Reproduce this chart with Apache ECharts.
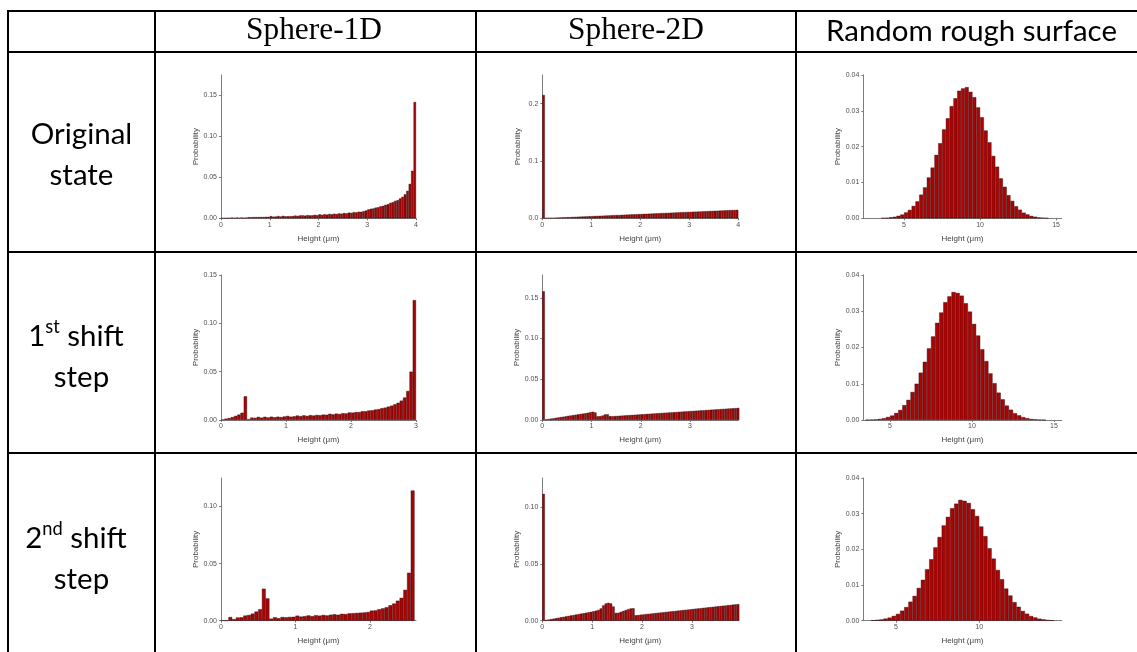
<!DOCTYPE html>
<html><head><meta charset="utf-8">
<script src="https://cdn.jsdelivr.net/npm/echarts@6/dist/echarts.min.js"></script>
<style>html,body{margin:0;padding:0;background:#fff}#c{width:1137px;height:652px}</style>
</head><body><div id="c"></div>
<script>
// ---------------- text ----------------
const columnTitles = ['Sphere-1D', 'Sphere-2D', 'Random rough surface'];
const rowTitles = [
  {main: 'Original', sup: '', rest: '', line2: 'state'},
  {main: '1', sup: 'st', rest: ' shift', line2: 'step'},
  {main: '2', sup: 'nd', rest: ' shift', line2: 'step'}
];
const xAxisName = 'Height (\u03bcm)';
const yAxisName = 'Probability';

// ---------------- data (histogram bin heights) ----------------
// Sphere panels: bins of 0.05 um starting at 0, values in units of 1e-4
const sphere1dOriginal = [2,2,3,3,8,4,9,5,9,6, 9,13,14,14,15,15,16,16,17,18, 26,20,21,28,22,30,24,25,26,27,
  33,29,35,36,32,39,35,36,42,38, 49,42,50,45,53,48,56,52,60,56, 64,60,69,66,74,72,80,79,87,95,
  108,116,120,130,135,146,152,165,172,188, 196,212,222,242,262,292,335,420,580,1420];
const sphere1dShift1 = [4,14,20,30,42,56,75,245,8,25, 22,32,24,33,26,34,28,34,30,36, 42,34,38,46,40,48,42,50,46,52,
  50,56,54,64,58,66,62,70,68,78, 76,82,82,90,90,98,100,108,112,122, 128,138,148,162,178,200,232,300,500,1240];
const sphere1dShift2 = [3,0,32,14,28,30,45,50,62,80, 100,280,195,18,30,22,32,30,33,34, 44,36,40,46,40,48,44,50,46,52,
  56,52,60,58,64,66,68,70,72,76, 88,90,100,108,118,135,150,175,200,270, 420,1140];
const sphere2dOriginal = [2150,3,5,6,8,10,12,14,16,18, 19,21,23,25,27,29,31,32,34,36, 38,40,42,43,45,47,49,51,53,55,
  56,58,60,62,64,66,68,69,71,73, 75,77,79,80,82,84,86,88,90,92, 93,95,97,99,101,103,105,106,108,110,
  112,114,116,117,119,121,123,125,127,129, 130,132,134,136,138,140,142,143,145,147];
const sphere2dShift1 = [1580,7,12,17,21,26,31,36,40,45, 50,55,59,64,69,74,78,83,88,96, 101,92,45,47,55,68,70,48,46,48,
  50,52,54,56,58,60,62,64,66,68, 70,72,74,76,78,80,82,84,86,88, 90,92,94,96,98,100,102,104,106,108,
  110,112,114,116,118,120,122,124,126,128, 130,132,134,136,138,140,142,144,146,148];
const sphere2dShift2 = [1120,6,10,14,18,22,26,30,34,38, 42,46,50,54,58,62,66,70,74,78, 83,88,95,108,135,152,158,152,125,68,
  70,78,86,94,102,108,110,48,50,53, 55,58,60,62,65,67,70,72,74,77, 79,82,84,86,89,91,94,96,98,101,
  103,106,108,110,113,115,118,120,122,125, 127,130,132,134,137,139,142,144,146];
// Random rough surface: bins of 0.25 um starting at 3.5, values in units of 1e-5
const roughOriginal = [9,14,27,42,70,104,163,233,345,472,660,862,1140,1415,1770,2095,2480,2790,3130,3350,3560,3625,
  3660,3530,3380,3095,2820,2450,2120,1740,1440,1115,880,645,485,335,240,156,108,66,44,25,15,8];
const roughShift1 = [6,11,17,31,49,82,122,193,276,410,555,772,1000,1305,1605,1975,2305,2680,2965,3250,3410,3530,
  3505,3430,3220,2990,2650,2330,1950,1625,1285,1015,755,570,398,284,186,128,78,51,29,18,10,5];
const roughShift2 = [13,24,36,59,86,134,190,280,382,532,694,918,1146,1440,1722,2055,2345,2670,2910,3150,3280,3385,
  3360,3300,3125,2935,2640,2370,2030,1740,1420,1162,900,706,520,390,272,196,130,90,56,38,22,14];

// tick labels
const xTicksSphere1 = [0,1,2,3,4];
const xTicksSphere2 = [0,1,2,3];
const xTicksRough1 = [5,10,15];
const xTicksRough2 = [5,10];
const yTicks015 = [0,0.05,0.10,0.15];
const yTicks010 = [0,0.05,0.10];
const yTicks02 = [0,0.1,0.2];
const yTicks004 = [0,0.01,0.02,0.03,0.04];

// ---------------- panel setup ----------------
const panels = [
  {data: sphere1dOriginal, unit: 1e-4, start: 0, bin: 0.05, xMin: 0, xMax: 4, xTicks: xTicksSphere1, yMax: 0.175, yTicks: yTicks015, dec: 2},
  {data: sphere2dOriginal, unit: 1e-4, start: 0, bin: 0.05, xMin: 0, xMax: 4.0, xTicks: xTicksSphere1, yMax: 0.25, yTicks: yTicks02, dec: 1},
  {data: roughOriginal, unit: 1e-5, start: 3.5, bin: 0.25, xMin: 2.32, xMax: 15.37, xTicks: xTicksRough1, yMax: 0.04, yTicks: yTicks004, dec: 2},
  {data: sphere1dShift1, unit: 1e-4, start: 0, bin: 0.05, xMin: 0, xMax: 3.0, xTicks: xTicksSphere2, yMax: 0.15, yTicks: yTicks015, dec: 2},
  {data: sphere2dShift1, unit: 1e-4, start: 0, bin: 0.05, xMin: 0, xMax: 3.98, xTicks: xTicksSphere2, yMax: 0.178, yTicks: yTicks015, dec: 2},
  {data: roughShift1, unit: 1e-5, start: 3.5, bin: 0.25, xMin: 3.37, xMax: 15.47, xTicks: xTicksRough1, yMax: 0.04, yTicks: yTicks004, dec: 2},
  {data: sphere1dShift2, unit: 1e-4, start: 0, bin: 0.05, xMin: 0, xMax: 2.62, xTicks: [0,1,2], yMax: 0.125, yTicks: yTicks010, dec: 2},
  {data: sphere2dShift2, unit: 1e-4, start: 0, bin: 0.05, xMin: 0, xMax: 3.93, xTicks: xTicksSphere2, yMax: 0.126, yTicks: yTicks010, dec: 2},
  {data: roughShift2, unit: 1e-5, start: 3.5, bin: 0.25, xMin: 3.04, xMax: 14.96, xTicks: xTicksRough2, yMax: 0.04, yTicks: yTicks004, dec: 2}
];

const colLeft = [221, 542.3, 863.3];
const colWidth = [195, 196, 198.4];
const rowTop = [75, 275, 478];
const rowHeight = [143.3, 145, 142.7];

const tickFont = 'Liberation Sans';
const axisColor = '#6e6e6e';
const labelColor = '#505050';

const grids = [], xAxes = [], yAxes = [], series = [];
panels.forEach((p, i) => {
  const r = Math.floor(i / 3), c = i % 3;
  grids.push({left: colLeft[c], top: rowTop[r], width: colWidth[c], height: rowHeight[r], containLabel: false});
  xAxes.push({
    type: 'value', gridIndex: i, min: p.xMin, max: p.xMax,
    name: xAxisName, nameLocation: 'middle', nameGap: 16,
    nameTextStyle: {fontSize: 8, color: '#444', fontFamily: tickFont},
    axisLine: {show: true, onZero: false, lineStyle: {color: axisColor, width: 0.9}},
    axisTick: {show: true, length: 2, customValues: p.xTicks, lineStyle: {color: axisColor, width: 0.9}},
    axisLabel: {show: true, customValues: p.xTicks, margin: 3, fontSize: 7, color: labelColor, fontFamily: tickFont,
      formatter: v => String(Math.round(v))},
    splitLine: {show: false}
  });
  yAxes.push({
    type: 'value', gridIndex: i, min: 0, max: p.yMax,
    name: yAxisName, nameLocation: 'middle', nameGap: 21,
    nameTextStyle: {fontSize: 8, color: '#444', fontFamily: tickFont},
    axisLine: {show: true, lineStyle: {color: axisColor, width: 0.9}},
    axisTick: {show: true, length: 2, customValues: p.yTicks, lineStyle: {color: axisColor, width: 0.9}},
    axisLabel: {show: true, customValues: p.yTicks, margin: 4, fontSize: 7, color: labelColor, fontFamily: tickFont,
      formatter: v => v.toFixed(p.dec)},
    splitLine: {show: false}
  });
  series.push({
    type: 'bar', xAxisIndex: i, yAxisIndex: i,
    barWidth: colWidth[c] * p.bin / (p.xMax - p.xMin),
    data: p.data.map((v, k) => [p.start + (k + 0.5) * p.bin, v * p.unit]),
    itemStyle: {color: '#a80606', borderColor: '#2a0000', borderWidth: 0.4},
    silent: true
  });
});

// ---------------- table drawing ----------------
const measureCtx = document.createElement('canvas').getContext('2d');
function textW(t, size, fam) { measureCtx.font = size + 'px "' + fam + '"'; return measureCtx.measureText(t).width; }
function fitSize(t, fam, target) { return 100 * target / textW(t, 100, fam); }

const serif = 'Liberation Serif';
const sans = 'Lato';
const serifSize = fitSize('Sphere-1D', serif, 136);
const sansSize = fitSize('Random rough surface', sans, 291);

const graphics = [];
function line(x1, y1, x2, y2) {
  graphics.push({type: 'line', silent: true, z: 100, shape: {x1, y1, x2, y2}, style: {stroke: '#000', lineWidth: 2}});
}
function text(t, x, y, size, fam, align) {
  graphics.push({type: 'text', silent: true, z: 100,
    style: {text: t, x, y, fill: '#000', font: size.toFixed(2) + 'px "' + fam + '"',
      textAlign: align || 'center', align: align || 'center', textVerticalAlign: 'middle', verticalAlign: 'middle'}});
}
// horizontal rules
line(7, 11, 1137, 11);
line(7, 52, 1137, 52);
line(7, 252, 1137, 252);
line(7, 453, 1137, 453);
// vertical rules
line(8, 10, 8, 652);
line(155, 10, 155, 652);
line(476, 10, 476, 652);
line(796, 10, 796, 652);

const colCenters = [314, 636, 971.5];
text(columnTitles[0], colCenters[0], 31, serifSize, serif);
text(columnTitles[1], colCenters[1], 31, serifSize, serif);
text(columnTitles[2], colCenters[2], 31, sansSize, sans);

const rowLineY = [[134, 175], [336, 377], [538, 579]];
rowTitles.forEach((rt, r) => {
  const y1 = rowLineY[r][0], y2 = rowLineY[r][1];
  if (!rt.sup) {
    text(rt.main, 81.5, y1, sansSize, sans);
  } else {
    const supSize = sansSize * 0.62;
    const w1 = textW(rt.main, sansSize, sans), ws = textW(rt.sup, supSize, sans), wr = textW(rt.rest, sansSize, sans);
    const x0 = 76 - (w1 + ws + wr) / 2;
    text(rt.main, x0, y1, sansSize, sans, 'left');
    text(rt.sup, x0 + w1, y1 - sansSize * 0.3, supSize, sans, 'left');
    text(rt.rest, x0 + w1 + ws, y1, sansSize, sans, 'left');
  }
  text(rt.line2, 81.5, y2, sansSize, sans);
});

const chart = echarts.init(document.getElementById('c'), null, {renderer: 'canvas'});
chart.setOption({
  animation: false,
  backgroundColor: '#fff',
  grid: grids, xAxis: xAxes, yAxis: yAxes, series: series,
  graphic: graphics
});
</script></body></html>
